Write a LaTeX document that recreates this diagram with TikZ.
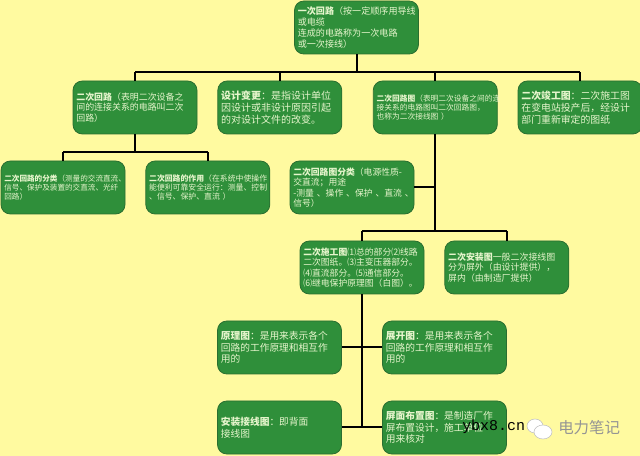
\documentclass[tikz,border=0pt]{standalone}
\usepackage{fontspec}
\setmainfont{Noto Sans CJK SC}
\newfontfamily\markfont{Liberation Mono}
\usetikzlibrary{positioning}

\definecolor{paper}{HTML}{FFFAA0}
\definecolor{leaf}{HTML}{2F8F3A}
\definecolor{leafedge}{HTML}{2A6E30}
\definecolor{leaftext}{HTML}{E6F5CC}

\newcommand{\fs}[1]{\fontsize{#1pt}{\the\dimexpr#1pt*6/5\relax}\selectfont}

\begin{document}
\begin{tikzpicture}[x=0.75pt,y=-0.75pt,
block/.style={rectangle,rounded corners=7pt,draw=leafedge,fill=leaf,text=leaftext,line width=0.6pt,
  minimum width=93pt,minimum height=39.75pt,text width=88pt,inner xsep=2pt,inner ysep=0pt,align=left,node distance=15pt},
wire/.style={draw=black,line width=1.5pt}]

        \fill[paper] (0,0) rectangle (640,456);
        \useasboundingbox (0,0) rectangle (640,456);

        \node [block, font=\fs{6.8}] (top) at (356.5,27.5)
          {\textbf{一次回路}（按一定顺序用导线\\或电缆\\连成的电路称为一次电路\\或一次接线）};

        % second row
        \node [block, font=\fs{6.7}] (erci) at (135,107.5)
          {\textbf{二次回路}（表明二次设备之\\间的连接关系的电路叫二次\\回路）};
        \node [block, font=\fs{7.5}, right = of erci] (sheji)
          {\textbf{设计变更}：是指设计单位\\因设计或非设计原因引起\\的对设计文件的改变。};
        \node [block, font=\fs{5.8}, right = 23pt of sheji] (huitu)
          {\textbf{二次回路图}（表明二次设备之间的连\\接关系的电路图叫二次回路图，\\也称为二次接线图 ）};
        \node [block, font=\fs{7.4}, right = of huitu] (jungong)
          {\textbf{二次竣工图}：二次施工图\\在变电站投产后，经设计\\部门重新审定的图纸};

        % third row
        \node [block, font=\fs{5.7}] (fenlei) at (63,187.5)
          {\textbf{二次回路的分类}（测量的交流直流、\\信号、保护及装置的交直流、光纤\\回路）};
        \node [block, font=\fs{5.9}, right = of fenlei] (zuoyong)
          {\textbf{二次回路的作用}（在系统中使操作\\能便利可靠安全运行：测量、控制\\、信号、保护、直流 ）};
        \node [block, font=\fs{6.6}] (tufen) at (352,187.5)
          {\textbf{二次回路图分类}（电源性质-\\交直流；用途\\\mbox{-测量 、操作 、保护 、直流 、}\\信号）};

        \node [block, font=\fs{6.6}] (shigong) at (362,267.5)
          {\textbf{二次施工图}⑴总的部分⑵线路\\二次图纸。⑶主变压器部分。\\⑷直流部分。⑸通信部分。\\⑹继电保护原理图（白图）。};
        \node [block, font=\fs{6.7}, right = of shigong] (anzhuang)
          {\textbf{二次安装图}一般二次接线图\\分为屏外（由设计提供），\\屏内（由制造厂提供）};

        % last rows
        \node [block, font=\fs{7.3}] (yuanli) at (279.5,347.5)
          {\textbf{原理图}：是用来表示各个\\回路的工作原理和相互作\\用的};
        \node [block, font=\fs{7.3}] (zhankai) at (444.5,347.5)
          {\textbf{展开图}：是用来表示各个\\回路的工作原理和相互作\\用的};
        \node [block, font=\fs{7.3}] (jiexian) at (279.5,427.5)
          {\textbf{安装接线图}：即背面\\接线图};
        \node [block, font=\fs{7.3}] (pingmian) at (444.5,427.5)
          {\textbf{屏面布置图}：是制造厂作\\屏布置设计，施工单位\\用来核对};

        \coordinate (busA) at (0,72);
        \coordinate (busB) at (0,152);
        \coordinate (busC) at (0,231);

        \draw[wire] (top.south) -- (top.south |- busA);
        \draw[wire] (erci.north |- busA) -- (jungong.north |- busA);
        \foreach \n in {erci,sheji,huitu,jungong} {
          \draw[wire] (\n.north) -- (\n.north |- busA);
        }
        \draw[wire] (erci.south) -- (erci.south |- busB);
        \draw[wire] (fenlei.north |- busB) -- (zuoyong.north |- busB);
        \foreach \n in {fenlei,zuoyong} {
          \draw[wire] (\n.north) -- (\n.north |- busB);
        }
        \draw[wire] (huitu.south) -- (huitu.south |- busC);
        \draw[wire] (tufen.east) -- (tufen.east -| huitu.south);
        \draw[wire] (shigong.north |- busC) -- (anzhuang.north |- busC);
        \foreach \n in {shigong,anzhuang} {
          \draw[wire] (\n.north) -- (\n.north |- busC);
        }
        \draw[wire] (shigong.south) -- (shigong.south |- jiexian.east);
        \draw[wire] (yuanli.east) -- (zhankai.west);
        \draw[wire] (jiexian.east) -- (pingmian.west);

        % watermark
        \node [font=\markfont\fs{11.2}, inner sep=0pt, anchor=west] (site) at (462,427) {ybx8.cn};
        \fill[white,draw=black!25,line width=0.4pt] (535,426) ellipse (8 and 7);
        \fill[white,draw=black!25,line width=0.4pt] (543,432) ellipse (9 and 7);
        \node [font=\fs{11.6}, text=black!42, inner sep=0pt, anchor=west] (brand) at (558,428) {电力笔记};
    \end{tikzpicture}
\end{document}
